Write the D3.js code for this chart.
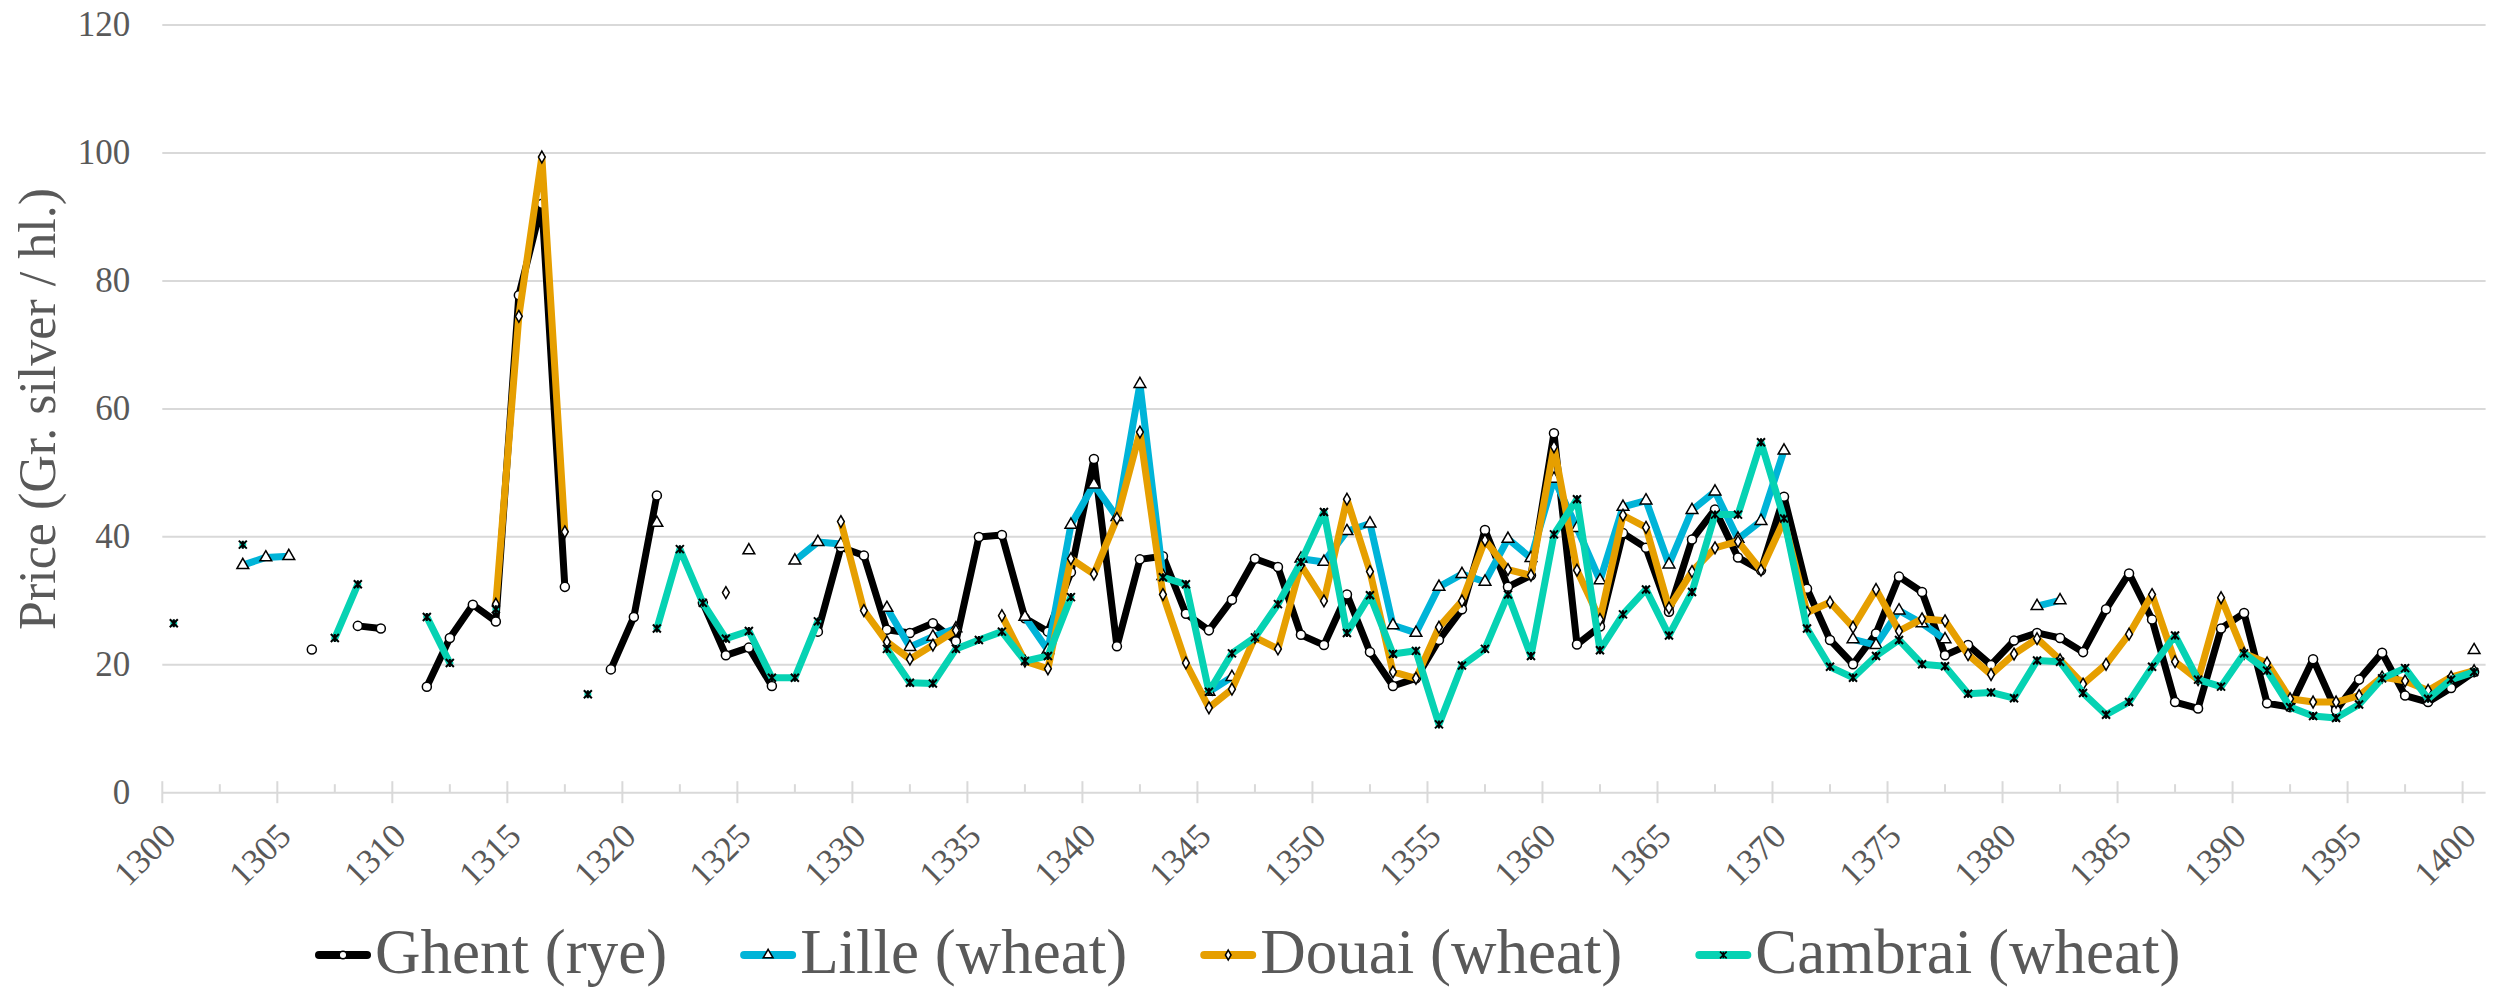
<!DOCTYPE html>
<html>
<head>
<meta charset="utf-8">
<script src="https://cdn.jsdelivr.net/npm/d3@7"></script>
<style>
  body { margin: 0; background: #fff; }
  svg { display: block; font-family: "Liberation Serif", "Times New Roman", serif; }
</style>
</head>
<body>
<div id="chart"></div>
<script>
// categories
const years = [
  1300, 1301, 1302, 1303, 1304, 1305, 1306, 1307, 1308, 1309,
  1310, 1311, 1312, 1313, 1314, 1315, 1316, 1317, 1318, 1319,
  1320, 1321, 1322, 1323, 1324, 1325, 1326, 1327, 1328, 1329,
  1330, 1331, 1332, 1333, 1334, 1335, 1336, 1337, 1338, 1339,
  1340, 1341, 1342, 1343, 1344, 1345, 1346, 1347, 1348, 1349,
  1350, 1351, 1352, 1353, 1354, 1355, 1356, 1357, 1358, 1359,
  1360, 1361, 1362, 1363, 1364, 1365, 1366, 1367, 1368, 1369,
  1370, 1371, 1372, 1373, 1374, 1375, 1376, 1377, 1378, 1379,
  1380, 1381, 1382, 1383, 1384, 1385, 1386, 1387, 1388, 1389,
  1390, 1391, 1392, 1393, 1394, 1395, 1396, 1397, 1398, 1399,
  1400
];

// prices, one value per year (null = no data)
const ghent = [
  null, null, null, null, null, null, 22.3, null, 26.0, 25.6,
  null, 16.5, 24.1, 29.3, 26.7, 77.7, 92.0, 32.1, null, 19.2,
  27.4, 46.4, null, 29.6, 21.4, 22.6, 16.6, null, 25.1, 38.3,
  37.0, 25.4, 24.9, 26.4, 23.6, 39.9, 40.2, 27.2, 25.1, 34.4,
  52.1, 22.8, 36.4, 36.9, 27.9, 25.3, 30.1, 36.5, 35.2, 24.6,
  23.0, 30.9, 21.9, 16.6, 17.8, 23.8, 28.6, 41.0, 32.1, 33.9,
  56.1, 23.1, 25.9, 40.5, 38.2, 28.2, 39.5, 44.2, 36.7, 34.7,
  46.2, 31.8, 23.8, 20.0, 24.8, 33.7, 31.3, 21.4, 23.0, 19.9,
  23.7, 24.9, 24.1, 21.9, 28.6, 34.2, 27.0, 14.1, 13.1, 25.6,
  28.0, 13.9, 13.3, 20.8, 12.8, 17.6, 21.8, 15.1, 14.1, 16.3,
  18.8
];

const lille = [
  null, null, null, 35.5, 36.7, 36.9, null, null, null, null,
  null, null, null, null, null, null, null, null, null, null,
  null, 42.1, null, null, null, 37.8, null, 36.2, 39.1, 38.8,
  null, 28.8, 22.7, 24.3, 25.6, null, null, 27.4, 22.2, 41.8,
  48.1, 43.0, 63.8, 33.8, null, 15.7, 18.0, null, null, 36.5,
  36.0, 40.8, 42.0, 26.1, 24.9, 32.1, 34.1, 32.9, 39.6, 36.6,
  49.0, 41.3, 33.1, 44.6, 45.6, 35.6, 44.1, 47.0, 39.6, 42.4,
  53.4, null, null, 23.9, 23.0, 28.4, 26.4, 23.9, null, null,
  null, 29.1, 30.0, null, null, null, null, null, null, null,
  null, null, null, null, null, null, null, null, null, null,
  22.2
];

const douai = [
  null, null, null, null, null, null, null, null, null, null,
  null, null, null, null, 29.4, 74.4, 99.3, 40.7, null, null,
  null, null, null, null, 31.2, null, null, null, null, 42.3,
  28.4, 23.5, 20.8, 23.0, 25.3, null, 27.6, 20.5, 19.3, 36.5,
  34.1, 42.8, 56.3, 30.9, 20.2, 13.2, 16.1, 24.2, 22.4, 35.5,
  29.9, 45.8, 34.5, 18.8, 17.8, 25.8, 29.9, 39.4, 34.8, 33.9,
  54.0, 34.7, 27.0, 43.3, 41.4, 28.8, 34.5, 38.2, 39.2, 34.7,
  42.5, 28.1, 29.7, 25.8, 31.7, 25.2, 27.1, 26.8, 21.5, 18.4,
  21.6, 24.0, 20.7, 16.9, 20.0, 24.7, 30.9, 20.4, 17.6, 30.4,
  21.7, 20.2, 14.6, 14.1, 14.1, 15.1, 18.0, 17.4, 15.9, 18.0,
  19.0
];

const cambrai = [
  26.4, null, null, 38.7, null, null, null, 24.1, 32.5, null,
  null, 27.4, 20.2, null, 28.6, null, null, null, 15.3, null,
  null, 25.6, 38.0, 29.6, 24.0, 25.2, 17.9, 17.9, 26.7, null,
  null, 22.4, 17.1, 17.0, 22.4, 23.8, 25.1, 20.5, 21.3, 30.5,
  null, null, null, 33.6, 32.5, 15.7, 21.7, 24.2, 29.4, 36.0,
  43.8, 24.9, 30.8, 21.6, 22.1, 10.6, 19.8, 22.4, 30.9, 21.3,
  40.3, 45.8, 22.2, 27.8, 31.7, 24.5, 31.3, 43.4, 43.4, 54.7,
  42.8, 25.6, 19.6, 17.9, 21.3, 23.8, 20.0, 19.7, 15.4, 15.6,
  14.7, 20.6, 20.4, 15.5, 12.1, 14.1, 19.6, 24.5, 17.6, 16.5,
  21.7, 19.0, 13.3, 11.9, 11.6, 13.7, 17.8, 19.4, 14.6, 17.6,
  18.8
];

const seriesNames = ["Ghent (rye)", "Lille (wheat)", "Douai (wheat)", "Cambrai (wheat)"];
const yTicks = [0, 20, 40, 60, 80, 100, 120];
const xLabels = [1300, 1305, 1310, 1315, 1320, 1325, 1330, 1335, 1340, 1345, 1350,
                 1355, 1360, 1365, 1370, 1375, 1380, 1385, 1390, 1395, 1400];

const width = 2498, height = 988;
const plot = { left: 162.3, right: 2485.6, top: 24.6, bottom: 792.2 };
const textColor = "#595959";
const gridColor = "#d9d9d9";

// star marker: x with a vertical bar
const symbolStar = {
  draw(context, size) {
    const r = Math.sqrt(size) / 2;
    context.moveTo(-r, -r); context.lineTo(r, r);
    context.moveTo(r, -r); context.lineTo(-r, r);
    context.moveTo(0, -r); context.lineTo(0, r);
  }
};

const series = [
  { name: seriesNames[0], values: ghent, color: "#000000", symbol: d3.symbolCircle, size: 64, fill: "#fff" },
  { name: seriesNames[1], values: lille, color: "#00b4d8", symbol: d3.symbolTriangle, size: 60, fill: "#fff" },
  { name: seriesNames[2], values: douai, color: "#e69f00", symbol: d3.symbolDiamond, size: 40, fill: "#fff" },
  { name: seriesNames[3], values: cambrai, color: "#06d2b3", symbol: symbolStar, size: 64, fill: "none" }
];

const xScale = d3.scalePoint().domain(years).range([plot.left, plot.right]).padding(0.5);
const step = xScale.step();
const yScale = d3.scaleLinear().domain([0, 120]).range([plot.bottom, plot.top]);

const svg = d3.select("#chart")
  .append("svg")
  .attr("width", width)
  .attr("height", height)
  .attr("viewBox", `0 0 ${width} ${height}`);

svg.append("rect").attr("width", width).attr("height", height).attr("fill", "#fff");

// y gridlines + labels
const yAxis = svg.append("g")
  .attr("transform", `translate(${plot.left},0)`)
  .call(d3.axisLeft(yScale).tickValues(yTicks).tickSize(-(plot.right - plot.left)).tickPadding(32));
yAxis.select(".domain").remove();
yAxis.selectAll(".tick line").attr("stroke", gridColor).attr("stroke-width", 2);
yAxis.selectAll(".tick text")
  .attr("fill", textColor)
  .attr("font-size", 35)
  .attr("font-family", "Liberation Serif, Times New Roman, serif");

// x ticks: major every 5 years (crossing), minor halfway (inside)
const xTicks = svg.append("g").attr("class", "axis axis--x");
xTicks.selectAll("line.major")
  .data(xLabels)
  .join("line")
    .attr("class", "major")
    .attr("x1", d => xScale(d) - step / 2).attr("x2", d => xScale(d) - step / 2)
    .attr("y1", plot.bottom - 11).attr("y2", plot.bottom + 11)
    .attr("stroke", gridColor).attr("stroke-width", 2);
xTicks.selectAll("line.minor")
  .data(xLabels.slice(0, -1))
  .join("line")
    .attr("class", "minor")
    .attr("x1", d => xScale(d) + step * 2).attr("x2", d => xScale(d) + step * 2)
    .attr("y1", plot.bottom - 8).attr("y2", plot.bottom)
    .attr("stroke", gridColor).attr("stroke-width", 2);
xTicks.selectAll("text")
  .data(xLabels)
  .join("text")
    .attr("transform", d => `translate(${xScale(d) + 4},${plot.bottom + 46}) rotate(-45)`)
    .attr("text-anchor", "end")
    .attr("fill", textColor)
    .attr("font-size", 35)
    .text(d => d);

// y axis title
svg.append("text")
  .attr("transform", `translate(55,409) rotate(-90)`)
  .attr("text-anchor", "middle")
  .attr("fill", textColor)
  .attr("font-size", 52)
  .text("Price (Gr. silver / hl.)");

// series: line then markers, in legend order
const line = d3.line()
  .defined(d => d.v != null)
  .x(d => xScale(d.year))
  .y(d => yScale(d.v));

series.forEach(s => {
  const pts = years.map((year, i) => ({ year, v: s.values[i] }));
  const g = svg.append("g").attr("class", "series");

  g.append("path")
    .datum(pts)
    .attr("d", line)
    .attr("fill", "none")
    .attr("stroke", s.color)
    .attr("stroke-width", 7)
    .attr("stroke-linejoin", "round")
    .attr("stroke-linecap", "round");

  g.selectAll("path.marker")
    .data(pts.filter(d => d.v != null))
    .join("path")
      .attr("class", "marker")
      .attr("transform", d => `translate(${xScale(d.year)},${yScale(d.v)})`)
      .attr("d", d3.symbol().type(s.symbol).size(s.size))
      .attr("fill", s.fill)
      .attr("stroke", "#000")
      .attr("stroke-width", s.fill === "none" ? 2 : 1.5);
});

// legend
const legend = svg.append("g").attr("class", "legend");
let lx = 315;
const ly = 955;
series.forEach(s => {
  const item = legend.append("g");
  item.append("line")
    .attr("x1", lx + 4).attr("x2", lx + 52)
    .attr("y1", ly).attr("y2", ly)
    .attr("stroke", s.color).attr("stroke-width", 8)
    .attr("stroke-linecap", "round");
  item.append("path")
    .attr("transform", `translate(${lx + 28},${ly})`)
    .attr("d", d3.symbol().type(s.symbol).size(s.size * 0.7))
    .attr("fill", s.fill)
    .attr("stroke", "#000")
    .attr("stroke-width", 1.5);
  const t = item.append("text")
    .attr("x", lx + 60).attr("y", 973)
    .attr("fill", textColor)
    .attr("font-size", 63)
    .text(s.name);
  lx += 60 + t.node().getComputedTextLength() + 73;
});
</script>
</body>
</html>
